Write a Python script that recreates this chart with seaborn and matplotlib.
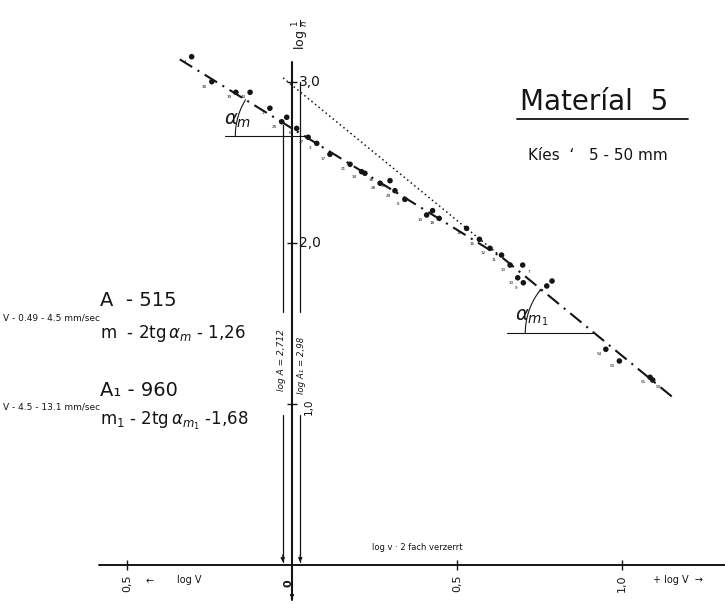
import numpy as np
import pandas as pd
import matplotlib
matplotlib.use("Agg")
import matplotlib.pyplot as plt
import seaborn as sns

# Messpunkte: x = log v (2fach verzerrt), y = log 1/n
log_v = [-0.304, -0.243, -0.170, -0.127, -0.067, -0.031, -0.016, 0.014, 0.049, 0.075,
         0.115, 0.176, 0.211, 0.221, 0.267, 0.297, 0.312, 0.342, 0.408, 0.426,
         0.446, 0.529, 0.568, 0.600, 0.635, 0.661, 0.699, 0.684, 0.701, 0.772,
         0.788, 0.951, 0.992, 1.085, 1.093]
log_n = [3.157, 3.002, 2.936, 2.936, 2.837, 2.753, 2.781, 2.712, 2.657, 2.619,
         2.551, 2.489, 2.443, 2.433, 2.371, 2.387, 2.325, 2.271, 2.174, 2.201,
         2.153, 2.091, 2.023, 1.967, 1.925, 1.863, 1.863, 1.784, 1.753, 1.733,
         1.764, 1.340, 1.267, 1.166, 1.149]
point_ids = ["4", "30", "39", "44", "1", "25", "2", "6", "27", "3",
             "17", "21", "34", "36", "28", "33", "29", "8", "14", "5",
             "18", "15", "16", "12", "11", "13", "7", "10", "9", "6",
             "4", "54", "53", "51", "50"]

# Ausgleichsgeraden: log 1/n = log A - m * log v
log_A = [2.712, 2.98]
m_vals = [1.26, 1.68]
v_start = [-0.34, 0.638]
v_end = [0.638, 1.16]

x_ticks = [-0.5, 0.5, 1.0]
x_tick_labels = ["0,5", "0,5", "1,0"]
y_ticks = [1.0, 2.0, 3.0]
y_tick_labels = ["1,0", "2,0", "3,0"]

W, H = 725, 605
X0, Y0, SX, SY = 292, 565, 330, 161   # Lage der Achsen im Bild


def fig_xy(xp, yp):
    return xp / W, 1 - yp / H


sns.set_theme(style="white")
plt.rcParams["font.family"] = ["DejaVu Sans"]
plt.rcParams["mathtext.fontset"] = "dejavusans"
ink = "#151515"

fig = plt.figure(figsize=(W / 100, H / 100), dpi=100)
ax = fig.add_axes([0, 0, 1, 1])
ax.set_xlim(-X0 / SX, (W - X0) / SX)
ax.set_ylim((Y0 - H) / SY, Y0 / SY)
ax.axis("off")

# Punkte
df = pd.DataFrame({"log v": log_v, "log 1/n": log_n})
sns.scatterplot(data=df, x="log v", y="log 1/n", color=ink, s=16, edgecolor="none", ax=ax)
for i, (xv, yv, lab) in enumerate(zip(log_v, log_n, point_ids)):
    off = (-7, -5)
    if lab in ("36", "50", "7"):
        off = (6, -7)
    ax.annotate(lab, (xv, yv), xytext=off, textcoords="offset pixels",
                fontsize=3, color=ink, ha="center", va="center")

# Strich-Punkt-Geraden
for a, m, v0, v1 in zip(log_A, m_vals, v_start, v_end):
    xs = np.array([v0, v1])
    ax.plot(xs, a - m * xs, color=ink, lw=1.5, linestyle=(0, (7, 3, 1, 3)))
# punktierte Verlaengerung der zweiten Geraden bis zur Achse
xs = np.array([-0.027, v_start[1]])
ax.plot(xs, log_A[1] - m_vals[1] * xs, color=ink, lw=1.1, linestyle=(0, (1, 2)))

# Winkel alpha_m und alpha_m1
for a, m, y_h, x_left in [(log_A[0], m_vals[0], 2.665, -0.203),
                          (log_A[1], m_vals[1], 1.441, 0.650)]:
    xv = (a - y_h) / m
    ax.plot([x_left, xv], [y_h, y_h], color=ink, lw=0.8)
    slope_px = m * SY / SX
    th = np.linspace(np.pi - np.arctan(slope_px), np.pi, 30)
    r = 69
    ax.plot(xv + r * np.cos(th) / SX, y_h + r * np.sin(th) / SY, color=ink, lw=0.8)
fig.text(*fig_xy(238, 121), r"$\alpha_m$", fontsize=14, color=ink, ha="center", va="center")
fig.text(*fig_xy(532, 318), r"$\alpha_{m_1}$", fontsize=14, color=ink, ha="center", va="center")

# Achsen
ax.plot([-0.585, (W - X0) / SX], [0, 0], color=ink, lw=1.4)
ax.plot([0, 0], [(Y0 - 600) / SY, 3.124], color=ink, lw=1.5)
ax.annotate("", xy=(0, (Y0 - 602) / SY), xytext=(0, (Y0 - 590) / SY),
            arrowprops=dict(arrowstyle="-|>", color=ink, lw=0.8, mutation_scale=6))
ax.vlines(x_ticks, -5 / SY, 5 / SY, color=ink, lw=1.0)
ax.hlines(y_ticks, -5 / SX, 5 / SX, color=ink, lw=1.0)

# log A Linien
for xl, ytop in [(-0.028, 2.733), (0.025, 3.0)]:
    ax.plot([xl, xl], [ytop, 1.571], color=ink, lw=0.9)
    ax.plot([xl, xl], [0.932, 0.02], color=ink, lw=0.9)
    ax.annotate("", xy=(xl, 0.0), xytext=(xl, 0.08),
                arrowprops=dict(arrowstyle="-|>", color=ink, lw=0.8, mutation_scale=6))
fig.text(*fig_xy(282, 360), "log A = 2,712", rotation=90, fontsize=6.5, style="italic",
         color=ink, ha="center", va="center")
fig.text(*fig_xy(301, 365), "log A₁ = 2,98", rotation=90, fontsize=6.2, style="italic",
         color=ink, ha="center", va="center")

# Achsenbeschriftungen
for yt, lab in zip(y_ticks, y_tick_labels):
    if yt == 1.0:
        ax.text(17 / SX, yt - 3 / SY, lab, rotation=90, fontsize=7.5, color=ink,
                ha="center", va="center")
    else:
        ax.text(7 / SX, yt, lab, fontsize=10, color=ink, ha="left", va="center")
for xt, lab in zip(x_ticks, x_tick_labels):
    ax.text(xt, -18 / SY, lab, rotation=90, fontsize=8, color=ink, ha="center", va="center")
ax.text(-4 / SX, -18 / SY, "0", rotation=90, fontsize=8, fontweight="bold", color=ink,
        ha="center", va="center")
fig.text(*fig_xy(150, 581), "←", fontsize=7, color=ink, ha="center", va="center")
fig.text(*fig_xy(189, 580), "log V", fontsize=7, color=ink, ha="center", va="center")
fig.text(*fig_xy(678, 580), "+ log V  →", fontsize=7, color=ink, ha="center", va="center")
fig.text(*fig_xy(417, 547), "log v · 2 fach verzerrt", fontsize=6, color=ink,
         ha="center", va="center")
fig.text(*fig_xy(301, 35), r"log $\frac{1}{n}$", rotation=90, fontsize=9, color=ink,
         ha="center", va="center")

# Titel
fig.text(*fig_xy(594, 102), "Materíal  5", fontsize=20, color=ink, ha="center", va="center")
ax.plot([(517 - X0) / SX, (688 - X0) / SX], [(Y0 - 119) / SY] * 2, color=ink, lw=1.3)
fig.text(*fig_xy(598, 155), "Kíes  ‘   5 - 50 mm", fontsize=11, color=ink, ha="center", va="center")

# Kennwerte links
fig.text(*fig_xy(100, 300), "A  - 515", fontsize=14, color=ink, ha="left", va="center")
fig.text(*fig_xy(3, 318), "V - 0.49 - 4.5 mm/sec", fontsize=6.5, color=ink, ha="left", va="center")
fig.text(*fig_xy(100, 333), r"m  - 2tg$\,\alpha_m$ - 1,26", fontsize=12, color=ink,
         ha="left", va="center")
fig.text(*fig_xy(100, 390), "A₁ - 960", fontsize=14, color=ink, ha="left", va="center")
fig.text(*fig_xy(3, 407), "V - 4.5 - 13.1 mm/sec", fontsize=6.5, color=ink, ha="left", va="center")
fig.text(*fig_xy(100, 421), r"m$_1$ - 2tg$\,\alpha_{m_1}$ -1,68", fontsize=12, color=ink,
         ha="left", va="center")

fig.savefig("out.png", dpi=100, facecolor="white")
